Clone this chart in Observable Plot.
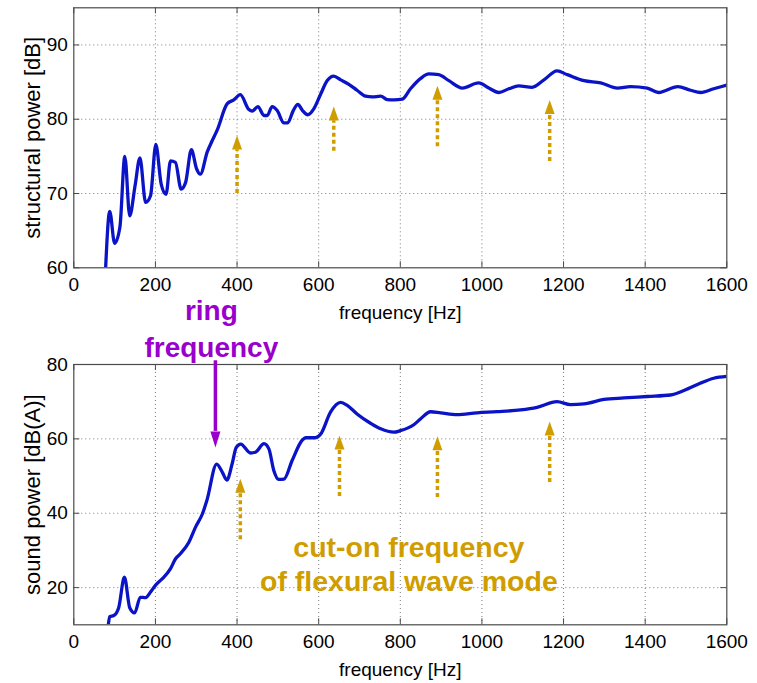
<!DOCTYPE html>
<html><head><meta charset="utf-8">
<script src="https://cdn.jsdelivr.net/npm/d3@7"></script>
<script src="https://cdn.jsdelivr.net/npm/@observablehq/plot@0.6"></script>
<style>
body{margin:0;background:#fff;}
#wrap{position:relative;width:757px;height:683px;overflow:hidden;background:#fff;}
#wrap svg{position:absolute;left:0;}
</style></head><body><div id="wrap"></div>
<script>
// ---- data ----
const xTicks = [0, 200, 400, 600, 800, 1000, 1200, 1400, 1600];
const xGrid = [200, 400, 600, 800, 1000, 1200, 1400];
const topYTicks = [60, 70, 80, 90];
const topYGrid = [70, 80, 90];
const botYTicks = [20, 40, 60, 80];
const botYGrid = [20, 40, 60];

const topF = [78, 88, 100, 113, 125, 137, 150, 162, 176, 188, 201, 214, 226, 237, 249, 263, 274, 288, 301, 310, 327, 339, 351, 376, 392, 408, 429, 437, 451, 466, 474, 486, 498, 515, 524, 538, 549, 560, 573, 588, 605, 621, 637, 654, 674, 694, 715, 731, 752, 768, 785, 805, 825, 850, 870, 894, 919, 952, 992, 1017, 1041, 1066, 1090, 1123, 1152, 1184, 1209, 1250, 1291, 1332, 1364, 1405, 1433, 1480, 1511, 1536, 1568, 1600];
const topV = [60, 67.6, 63.3, 65.5, 75, 67.0, 71, 74.8, 68.8, 69.7, 76.6, 71.3, 69.9, 74.4, 74.2, 70.6, 71.5, 75.9, 73.3, 72.6, 75.6, 77.1, 78.5, 82.1, 82.6, 83.3, 81.3, 81.1, 81.7, 80.5, 80.5, 81.7, 81.2, 79.5, 79.5, 81.2, 82.0, 81.2, 80.6, 81.4, 83.4, 85.2, 85.8, 85.3, 84.7, 83.9, 83.1, 83.0, 83.1, 82.65, 82.6, 82.7, 84.1, 85.5, 86.1, 86.0, 85.2, 84.2, 84.9, 84.2, 83.6, 84.1, 84.5, 84.3, 85.3, 86.5, 86.0, 85.2, 84.9, 84.2, 84.4, 84.2, 83.6, 84.4, 83.9, 83.6, 84.1, 84.6];

const botF = [84, 88, 98, 110, 124, 137, 149, 163, 176, 188, 200, 217, 237, 249, 261, 282, 298, 315, 326, 350, 364, 375, 388, 398, 409, 433, 445, 466, 478, 490, 502, 515, 535, 560, 568, 592, 605, 629, 654, 670, 694, 727, 752, 784, 800, 833, 850, 874, 899, 939, 988, 1037, 1095, 1135, 1184, 1217, 1250, 1299, 1348, 1405, 1462, 1495, 1536, 1568, 1600];
const botV = [9.5, 12.2, 12.5, 14.6, 22.8, 14.6, 13.2, 17.4, 17.3, 18.8, 20.6, 22.4, 25.1, 27.7, 29.1, 32.2, 36.2, 39.8, 43.4, 53.2, 51.0, 48.9, 53.3, 57.7, 58.6, 56.2, 56.4, 58.7, 57.3, 51.5, 49.1, 49.2, 54.2, 59.7, 60.3, 60.3, 61.3, 67.2, 69.8, 69.0, 66.7, 64.2, 62.7, 61.8, 62.2, 63.8, 65.4, 67.3, 67.0, 66.5, 67.0, 67.3, 67.8, 68.5, 70.0, 69.2, 69.4, 70.6, 71.0, 71.4, 71.8, 73.0, 75.0, 76.3, 76.8];

// cut-on arrows (gold): frequency, tail, head base, tip
const topArrowF = [400, 637, 891, 1166];
const topArrowTail = [70, 75.7, 76.3, 74.3];
const topArrowBase = [75.9, 79.8, 82.6, 80.7];
const topArrowTip = [77.8, 81.7, 84.5, 82.6];
const botArrowF = [408, 651, 891, 1166];
const botArrowTail = [32.9, 44.5, 44.2, 48.3];
const botArrowBase = [45.5, 57.1, 56.9, 60.9];
const botArrowTip = [49.3, 60.9, 60.7, 64.7];

// ring frequency arrow (purple)
const ringF = [347];
const ringTop = [81];
const ringBase = [62.0];
const ringTip = [57.7];

const ringText = ["ring", "frequency"];
const ringTextF = [337, 337];
const ringTextV = [94.5, 84.3];
const cutText = ["cut-on frequency", "of flexural wave mode"];
const cutTextF = [821, 821];
const cutTextV = [30.6, 21.6];

const xLabel = "frequency [Hz]";
const topYLabel = "structural power [dB]";
const botYLabel = "sound power [dB(A)]";

// ---- styles ----
const FONT = "'Liberation Sans', Arial, Helvetica, sans-serif";
const BLUE = "#0b13c6", GOLD = "#d09d00", PURPLE = "#9a00cc", FRAME = "#4a4a4a", GRID = "#7a7a7a";
const W = 757, mL = 73.3, mR = 30.7, tickLen = 6;

const upHead = {draw(ctx, size){ const r = Math.sqrt(size/Math.PI); ctx.moveTo(0,0); ctx.lineTo(r, 2.8*r); ctx.lineTo(-r, 2.8*r); ctx.closePath(); }};
const downHead = {draw(ctx, size){ const r = Math.sqrt(size/Math.PI); ctx.moveTo(0,0); ctx.lineTo(r, -3.2*r); ctx.lineTo(-r, -3.2*r); ctx.closePath(); }};

const zip = (fs, vs) => fs.map((f, i) => ({f, v: vs[i]}));
const arrows = (F, T, B, P) => F.map((f, i) => ({f, tail: T[i], base: B[i], tip: P[i]}));

function panel({data, yDomain, yTicks, yGrid, yLabel, height, mT, mB, extra}) {
  const ph = height - mT - mB, pw = W - mL - mR;
  return Plot.plot({
    width: W, height, marginLeft: mL, marginRight: mR, marginTop: mT, marginBottom: mB,
    x: {domain: [0, 1600], label: null},
    y: {domain: yDomain, label: null},
    style: {fontFamily: FONT, fontSize: "18px", color: "#000", background: "transparent", overflow: "visible"},
    marks: [
      Plot.ruleX(xGrid, {stroke: GRID, strokeDasharray: "1,3", strokeWidth: 1}),
      Plot.ruleY(yGrid, {stroke: GRID, strokeDasharray: "1,3", strokeWidth: 1}),
      Plot.ruleX(xTicks, {insetTop: ph - tickLen, stroke: FRAME}),
      Plot.ruleX(xTicks, {insetBottom: ph - tickLen, stroke: FRAME}),
      Plot.ruleY(yTicks, {insetRight: pw - tickLen, stroke: FRAME}),
      Plot.ruleY(yTicks, {insetLeft: pw - tickLen, stroke: FRAME}),
      Plot.line(data, {x: "f", y: "v", stroke: BLUE, strokeWidth: 3.3, clip: true, curve: "monotone-x", strokeLinejoin: "round"}),
      Plot.frame({stroke: FRAME, strokeWidth: 1.2}),
      Plot.axisX({ticks: xTicks, tickFormat: d => String(d), tickSize: 0, tickPadding: 10, fontSize: 19, label: null}),
      Plot.axisY({ticks: yTicks, tickFormat: d => String(d), tickSize: 0, tickPadding: 6, fontSize: 19, label: null}),
      Plot.text([xLabel], {frameAnchor: "bottom", dy: 44.7, fontSize: 19, lineAnchor: "middle", textAnchor: "middle", fill: "#000"}),
      Plot.text([yLabel], {frameAnchor: "left", dx: -41, rotate: -90, fontSize: 22, lineAnchor: "middle", textAnchor: "middle", fill: "#000"}),
      ...extra
    ]
  });
}

const goldMarks = (rows) => [
  Plot.ruleX(rows, {x: "f", y1: "tail", y2: "base", stroke: GOLD, strokeWidth: 3.5, strokeDasharray: "4,3"}),
  Plot.dot(rows, {x: "f", y: "tip", symbol: upHead, r: 5, fill: GOLD, stroke: "none"})
];

const topChart = panel({
  data: zip(topF, topV), yDomain: [60, 95], yTicks: topYTicks, yGrid: topYGrid, yLabel: topYLabel,
  height: 330, mT: 7.3, mB: 62.7,
  extra: goldMarks(arrows(topArrowF, topArrowTail, topArrowBase, topArrowTip))
});

const ringRows = ringF.map((f, i) => ({f, top: ringTop[i], base: ringBase[i], tip: ringTip[i]}));
const botChart = panel({
  data: zip(botF, botV), yDomain: [10, 80], yTicks: botYTicks, yGrid: botYGrid, yLabel: botYLabel,
  height: 393, mT: 74, mB: 58.7,
  extra: [
    ...goldMarks(arrows(botArrowF, botArrowTail, botArrowBase, botArrowTip)),
    Plot.ruleX(ringRows, {x: "f", y1: "top", y2: "base", stroke: PURPLE, strokeWidth: 3.5}),
    Plot.dot(ringRows, {x: "f", y: "tip", symbol: downHead, r: 5, fill: PURPLE, stroke: "none"}),
    Plot.text(ringText.map((t, i) => ({t, f: ringTextF[i], v: ringTextV[i]})), {x: "f", y: "v", text: "t", fill: PURPLE, fontWeight: "bold", fontSize: 28, lineAnchor: "middle"}),
    Plot.text(cutText.map((t, i) => ({t, f: cutTextF[i], v: cutTextV[i]})), {x: "f", y: "v", text: "t", fill: GOLD, fontWeight: "bold", fontSize: 28.5, lineAnchor: "middle"})
  ]
});

const wrap = document.getElementById("wrap");
topChart.style.top = "0px";
botChart.style.top = "290px";
wrap.appendChild(topChart);
wrap.appendChild(botChart);
</script></body></html>
